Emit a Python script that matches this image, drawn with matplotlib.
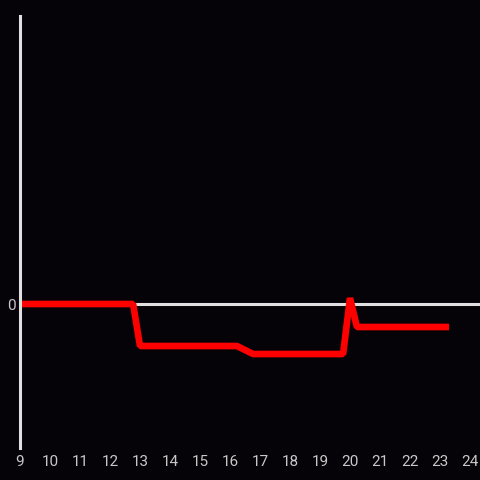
import matplotlib
matplotlib.use("Agg")
import matplotlib.pyplot as plt

# data
hours = [9, 12.77, 13.0, 16.23, 16.77, 19.77, 20.0, 20.23, 23.3]
values = [0, 0, -4.2, -4.2, -5.0, -5.0, 0.6, -2.3, -2.3]
xticks = list(range(9, 25))

bg = "#050308"
fig = plt.figure(figsize=(4.8, 4.8), dpi=100, facecolor=bg)
ax = fig.add_axes([20/480, 32/480, 460/480, 432/480], facecolor=bg)

ax.axhline(0, color="#e0e0e0", lw=2.2, zorder=1)
ax.plot(hours, values, color="#ff0000", lw=4.8, solid_joinstyle="bevel",
        solid_capstyle="butt", zorder=2)

ax.set_xlim(9, 24.333)
ax.set_ylim(-14.4, 28.8)
ax.set_xticks(xticks)
ax.set_xticklabels([str(t) for t in xticks])
ax.set_yticks([0])
ax.set_yticklabels(["0"])
ax.tick_params(length=0, colors="#c8c8c8", labelsize=11)
ax.tick_params(axis="x", pad=5)
ax.tick_params(axis="y", pad=3)
for lab in ax.get_xticklabels() + ax.get_yticklabels():
    lab.set_family("Roboto")

for s in ["top", "right", "bottom"]:
    ax.spines[s].set_visible(False)
ax.spines["left"].set_color("#e0e0e0")
ax.spines["left"].set_linewidth(2.2)

fig.savefig("out.png", dpi=100, facecolor=bg)
